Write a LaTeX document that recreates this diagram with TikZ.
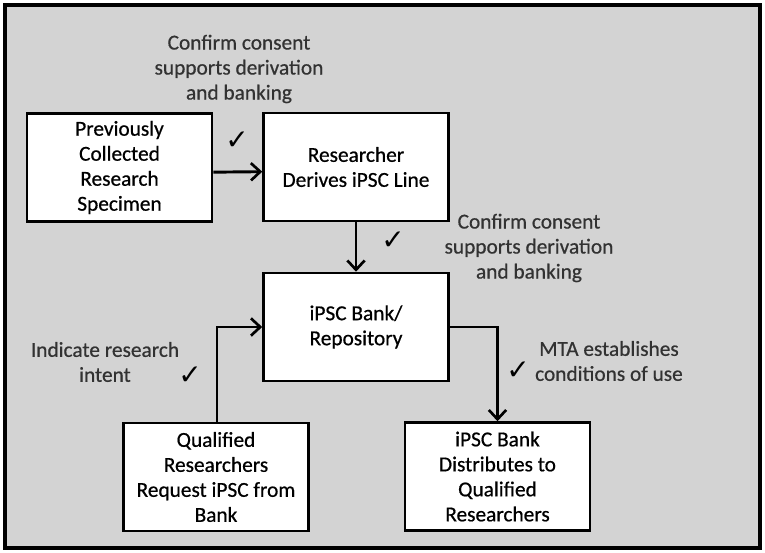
\documentclass[tikz,border=0pt]{standalone}
\usepackage{fontspec}
\setmainfont{Carlito}
\newfontfamily\heavyfont[FakeBold=0.6]{Carlito}
\newfontfamily\symfont{DejaVu Sans}
\usetikzlibrary{arrows.meta}
\definecolor{bggray}{RGB}{211,211,211}
\definecolor{labgray}{RGB}{50,50,50}
\tikzset{
  box/.style={draw=black, fill=white, line width=1.9pt, minimum width=138.75pt, minimum height=81pt, inner sep=0pt, align=center, font=\heavyfont\fontsize{16}{18.75}\selectfont, text=black},
  lab/.style={align=center, inner sep=0pt, font=\heavyfont\fontsize{16}{18.75}\selectfont, text=labgray},
  tick/.style={inner sep=0pt, font=\symfont\fontsize{21}{21}\selectfont},
  arr/.style={line width=2.2pt, -{Straight Barb[length=7pt,width=13pt,line width=2pt]}}
}
\begin{document}
\begin{tikzpicture}[x=0.75pt,y=-0.75pt]
\useasboundingbox (0,0) rectangle (765,553);
\fill[white] (0,0) rectangle (765,553);
\draw[fill=bggray, line width=2.4pt] (5,5) rectangle (760,548);

\node[box] (b1) at (119.5,167.5) {Previously\\Collected\\Research\\Specimen};
\node[box] (b2) at (356,167) {Researcher\\Derives iPSC Line};
\node[box] (b3) at (356,327) {iPSC Bank/\\Repository};
\node[box] (b4) at (216,477) {Qualified\\Researchers\\Request iPSC from\\Bank};
\node[box] (b5) at (497.5,476.5) {iPSC Bank\\Distributes to\\Qualified\\Researchers};

\draw[arr] ([yshift=-3.5pt]b1.east) -- ([yshift=-3.5pt]b2.west);
\draw[arr] (b2.south) -- (b3.north);
\draw[arr] ([xshift=0.75pt]b4.north) |- (b3.west);
\draw[arr] (b3.east) -| (b5.north);

\node[lab] (l1) at (239,69) {Confirm consent\\supports derivation\\and banking};
\node[lab] (l2) at (529,248) {Confirm consent\\supports derivation\\and banking};
\node[lab] (l3) at (105,362) {Indicate research\\intent};
\node[lab] (l4) at (609,361) {MTA establishes\\conditions of use};

\node[tick] (t1) at (237,141) {✓};
\node[tick] (t2) at (393,241) {✓};
\node[tick] (t3) at (190,376) {✓};
\node[tick] (t4) at (518,371) {✓};
\end{tikzpicture}
\end{document}
